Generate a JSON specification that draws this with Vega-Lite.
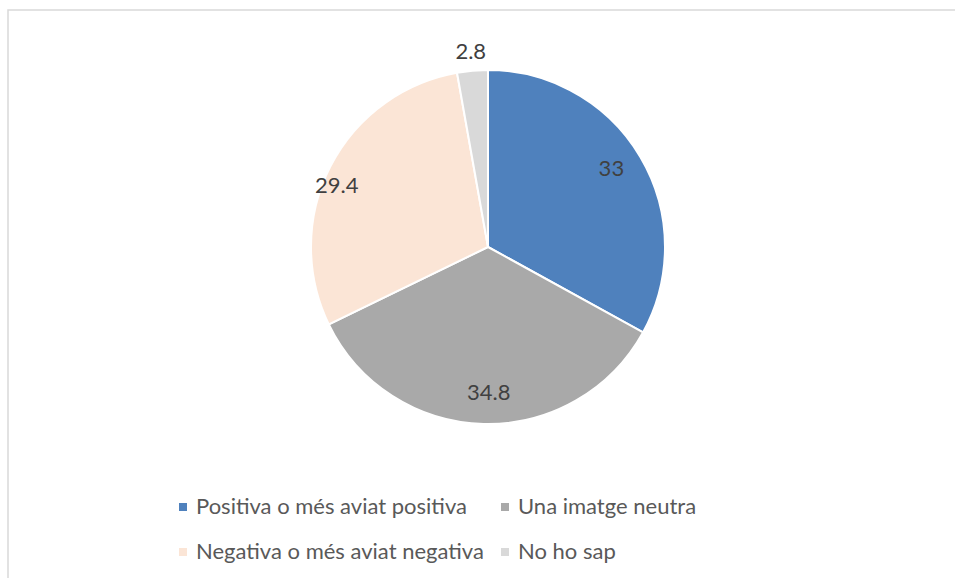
{
  "$schema": "https://vega.github.io/schema/vega-lite/v6.json",
  "autosize": "none",
  "width": 960,
  "height": 580,
  "padding": {"left": 8, "top": 10, "right": 0, "bottom": 0},
  "background": "white",
  "view": {"stroke": "#d9d9d9", "strokeWidth": 1.5},
  "data": {"values": [
    {"cat": "Positiva o més aviat positiva", "value": 33, "i": 1},
    {"cat": "Una imatge neutra", "value": 34.8, "i": 2},
    {"cat": "Negativa o més aviat negativa", "value": 29.4, "i": 3},
    {"cat": "No ho sap", "value": 2.8, "i": 4}
  ]},
  "encoding": {
    "theta": {"field": "value", "type": "quantitative", "stack": true},
    "order": {"field": "i", "type": "quantitative"}
  },
  "layer": [
    {
      "mark": {"type": "arc", "outerRadius": 177, "stroke": "white", "strokeWidth": 2, "yOffset": -53},
      "encoding": {
        "color": {
          "field": "cat", "type": "nominal",
          "scale": {
            "domain": ["Positiva o més aviat positiva", "Una imatge neutra", "Negativa o més aviat negativa", "No ho sap"],
            "range": ["#4f81bd", "#a9a9a9", "#fbe5d6", "#d9d9d9"]
          },
          "legend": {
            "orient": "none", "legendX": 164, "legendY": 486,
            "direction": "horizontal", "columns": 2, "title": null,
            "symbolType": "square", "symbolSize": 64, "symbolStrokeWidth": 0,
            "labelFont": "Lato", "labelFontSize": 22, "labelColor": "#595959",
            "rowPadding": 23, "columnPadding": 10, "labelOffset": 2, "labelLimit": 400
          }
        }
      }
    },
    {
      "mark": {"type": "text", "radius": 146, "thetaOffset": -0.03, "yOffset": -53, "font": "Lato", "fontSize": 22, "color": "#404040"},
      "encoding": {
        "detail": {"field": "cat"},
        "text": {"condition": {"test": "datum.value > 30", "field": "value", "type": "quantitative"}, "value": ""}
      }
    },
    {
      "mark": {"type": "text", "radius": 163, "thetaOffset": -0.09, "yOffset": -53, "font": "Lato", "fontSize": 22, "color": "#404040"},
      "encoding": {
        "detail": {"field": "cat"},
        "text": {"condition": {"test": "datum.value > 5 && datum.value < 30", "field": "value", "type": "quantitative"}, "value": ""}
      }
    },
    {
      "mark": {"type": "text", "radius": 196, "yOffset": -53, "font": "Lato", "fontSize": 22, "color": "#404040"},
      "encoding": {
        "detail": {"field": "cat"},
        "text": {"condition": {"test": "datum.value <= 5", "field": "value", "type": "quantitative"}, "value": ""}
      }
    }
  ]
}
